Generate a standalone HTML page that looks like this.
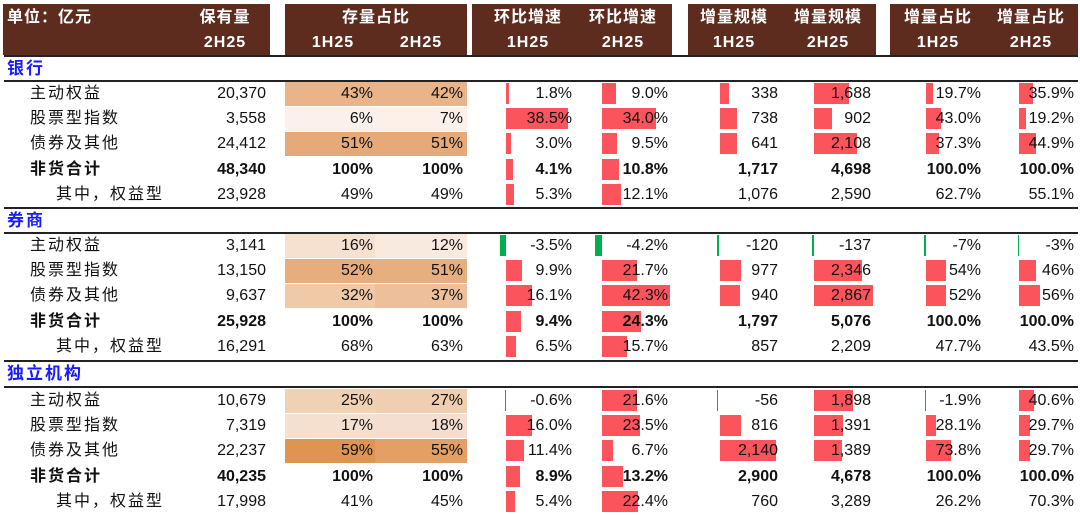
<!DOCTYPE html>
<html><head><meta charset="utf-8">
<style>
*{margin:0;padding:0;box-sizing:border-box}
body{width:1080px;height:515px;background:#fff;position:relative;overflow:hidden;font-family:"Liberation Sans","Noto Sans CJK SC",sans-serif;color:#111;font-size:16px}
.hb{position:absolute;top:4px;height:51px;background:#5e2c1e}
.ht{position:absolute;color:#fff;font-weight:bold;font-size:16px;line-height:20px;white-space:nowrap;transform:translateX(-50%);letter-spacing:1px}
.ln{position:absolute;left:4px;width:1074px;height:2px;background:#222}
.sec{position:absolute;left:7px;color:#1a1aff;font-weight:bold;font-size:17px;letter-spacing:2px;line-height:23px}
.r{position:absolute;left:0;width:1080px;height:25px;line-height:25px}
.r span{position:absolute;white-space:nowrap;z-index:2}
.n{left:30px;letter-spacing:2px}
.n2{left:56px !important;letter-spacing:2px}
.c1{right:814px}.c2{right:707px}.c3{right:617px}.c4{right:508px}.c5{right:412px}
.c6{right:302px}.c7{right:209px}.c8{right:99px}.c9{right:6px}
.bold span{font-weight:bold}
.h{position:absolute;top:1px;height:24px;z-index:1}
.h1{left:285px;width:90px}.h2{left:375px;width:92px}
.b{position:absolute;top:2px;height:21px;background:#fb545c;z-index:1}
.g{position:absolute;top:2px;height:21px;background:#00b050;z-index:1}
</style></head><body>
<div class="hb" style="left:3px;width:267px"></div>
<div class="hb" style="left:285px;width:182px"></div>
<div class="hb" style="left:472px;width:200px"></div>
<div class="hb" style="left:688px;width:188px"></div>
<div class="hb" style="left:890px;width:188px"></div>
<div class="ht" style="left:7px;top:8px;transform:none">单位：亿元</div>
<div class="ht" style="left:225px;top:8px">保有量</div>
<div class="ht" style="left:225px;top:33px">2H25</div>
<div class="ht" style="left:376px;top:8px">存量占比</div>
<div class="ht" style="left:333px;top:33px">1H25</div>
<div class="ht" style="left:421px;top:33px">2H25</div>
<div class="ht" style="left:528px;top:8px">环比增速</div>
<div class="ht" style="left:623px;top:8px">环比增速</div>
<div class="ht" style="left:528px;top:33px">1H25</div>
<div class="ht" style="left:623px;top:33px">2H25</div>
<div class="ht" style="left:734px;top:8px">增量规模</div>
<div class="ht" style="left:828px;top:8px">增量规模</div>
<div class="ht" style="left:734px;top:33px">1H25</div>
<div class="ht" style="left:828px;top:33px">2H25</div>
<div class="ht" style="left:938px;top:8px">增量占比</div>
<div class="ht" style="left:1031px;top:8px">增量占比</div>
<div class="ht" style="left:938px;top:33px">1H25</div>
<div class="ht" style="left:1031px;top:33px">2H25</div>

<div class="ln" style="top:55px"></div>
<div class="sec" style="top:57px">银行</div>
<div class="ln" style="top:80px"></div>

<div class="r" style="top:81px"><span class="n">主动权益</span><span class="c1">20,370</span>
<i class="h h1" style="background:#e9b48a"></i><i class="h h2" style="background:#e9b48a"></i><span class="c2">43%</span><span class="c3">42%</span>
<i class="b" style="left:506px;width:3px"></i><span class="c4">1.8%</span><i class="b" style="left:602px;width:14px"></i><span class="c5">9.0%</span>
<i class="b" style="left:720px;width:9px"></i><span class="c6">338</span><i class="b" style="left:814px;width:35px"></i><span class="c7">1,688</span>
<i class="b" style="left:926px;width:7px"></i><span class="c8">19.7%</span><i class="b" style="left:1019px;width:14px"></i><span class="c9">35.9%</span></div>
<div class="r" style="top:106px"><span class="n">股票型指数</span><span class="c1">3,558</span>
<i class="h h1" style="background:#fbf1ec"></i><i class="h h2" style="background:#fbf0ea"></i><span class="c2">6%</span><span class="c3">7%</span>
<i class="b" style="left:506px;width:62px"></i><span class="c4">38.5%</span><i class="b" style="left:602px;width:54px"></i><span class="c5">34.0%</span>
<i class="b" style="left:720px;width:17px"></i><span class="c6">738</span><i class="b" style="left:814px;width:18px"></i><span class="c7">902</span>
<i class="b" style="left:926px;width:15px"></i><span class="c8">43.0%</span><i class="b" style="left:1019px;width:7px"></i><span class="c9">19.2%</span></div>
<div class="r" style="top:131px"><span class="n">债券及其他</span><span class="c1">24,412</span>
<i class="h h1" style="background:#e6aa7a"></i><i class="h h2" style="background:#e6aa7a"></i><span class="c2">51%</span><span class="c3">51%</span>
<i class="b" style="left:506px;width:5px"></i><span class="c4">3.0%</span><i class="b" style="left:602px;width:15px"></i><span class="c5">9.5%</span>
<i class="b" style="left:720px;width:17px"></i><span class="c6">641</span><i class="b" style="left:814px;width:43px"></i><span class="c7">2,108</span>
<i class="b" style="left:926px;width:13px"></i><span class="c8">37.3%</span><i class="b" style="left:1019px;width:17px"></i><span class="c9">44.9%</span></div>
<div class="r bold" style="top:157px"><span class="n">非货合计</span><span class="c1">48,340</span><span class="c2">100%</span><span class="c3">100%</span>
<i class="b" style="left:506px;width:7px"></i><span class="c4">4.1%</span><i class="b" style="left:602px;width:17px"></i><span class="c5">10.8%</span>
<span class="c6">1,717</span><span class="c7">4,698</span><span class="c8">100.0%</span><span class="c9">100.0%</span></div>
<div class="r" style="top:182px"><span class="n n2">其中，权益型</span><span class="c1">23,928</span><span class="c2">49%</span><span class="c3">49%</span>
<i class="b" style="left:506px;width:8px"></i><span class="c4">5.3%</span><i class="b" style="left:602px;width:19px"></i><span class="c5">12.1%</span>
<span class="c6">1,076</span><span class="c7">2,590</span><span class="c8">62.7%</span><span class="c9">55.1%</span></div>

<div class="ln" style="top:207px"></div>
<div class="sec" style="top:209px">券商</div>
<div class="ln" style="top:232px"></div>

<div class="r" style="top:233px"><span class="n">主动权益</span><span class="c1">3,141</span>
<i class="h h1" style="background:#f6e0cf"></i><i class="h h2" style="background:#f9eadf"></i><span class="c2">16%</span><span class="c3">12%</span>
<i class="g" style="left:500px;width:6px"></i><span class="c4">-3.5%</span><i class="g" style="left:595px;width:7px"></i><span class="c5">-4.2%</span>
<i class="g" style="left:717px;width:2px"></i><span class="c6">-120</span><i class="g" style="left:812px;width:2px"></i><span class="c7">-137</span>
<i class="g" style="left:924px;width:2px"></i><span class="c8">-7%</span><i class="g" style="left:1018px;width:1px"></i><span class="c9">-3%</span></div>
<div class="r" style="top:258px"><span class="n">股票型指数</span><span class="c1">13,150</span>
<i class="h h1" style="background:#e7ad7d"></i><i class="h h2" style="background:#e7ae80"></i><span class="c2">52%</span><span class="c3">51%</span>
<i class="b" style="left:506px;width:16px"></i><span class="c4">9.9%</span><i class="b" style="left:602px;width:35px"></i><span class="c5">21.7%</span>
<i class="b" style="left:720px;width:21px"></i><span class="c6">977</span><i class="b" style="left:814px;width:48px"></i><span class="c7">2,346</span>
<i class="b" style="left:926px;width:20px"></i><span class="c8">54%</span><i class="b" style="left:1019px;width:17px"></i><span class="c9">46%</span></div>
<div class="r" style="top:283px"><span class="n">债券及其他</span><span class="c1">9,637</span>
<i class="h h1" style="background:#f0c9a8"></i><i class="h h2" style="background:#edc09b"></i><span class="c2">32%</span><span class="c3">37%</span>
<i class="b" style="left:506px;width:26px"></i><span class="c4">16.1%</span><i class="b" style="left:602px;width:68px"></i><span class="c5">42.3%</span>
<i class="b" style="left:720px;width:20px"></i><span class="c6">940</span><i class="b" style="left:814px;width:59px"></i><span class="c7">2,867</span>
<i class="b" style="left:926px;width:20px"></i><span class="c8">52%</span><i class="b" style="left:1019px;width:21px"></i><span class="c9">56%</span></div>
<div class="r bold" style="top:309px"><span class="n">非货合计</span><span class="c1">25,928</span><span class="c2">100%</span><span class="c3">100%</span>
<i class="b" style="left:506px;width:15px"></i><span class="c4">9.4%</span><i class="b" style="left:602px;width:39px"></i><span class="c5">24.3%</span>
<span class="c6">1,797</span><span class="c7">5,076</span><span class="c8">100.0%</span><span class="c9">100.0%</span></div>
<div class="r" style="top:334px"><span class="n n2">其中，权益型</span><span class="c1">16,291</span><span class="c2">68%</span><span class="c3">63%</span>
<i class="b" style="left:506px;width:10px"></i><span class="c4">6.5%</span><i class="b" style="left:602px;width:25px"></i><span class="c5">15.7%</span>
<span class="c6">857</span><span class="c7">2,209</span><span class="c8">47.7%</span><span class="c9">43.5%</span></div>

<div class="ln" style="top:360px"></div>
<div class="sec" style="top:362px">独立机构</div>
<div class="ln" style="top:386px"></div>

<div class="r" style="top:388px"><span class="n">主动权益</span><span class="c1">10,679</span>
<i class="h h1" style="background:#f1d1b4"></i><i class="h h2" style="background:#f0ceb0"></i><span class="c2">25%</span><span class="c3">27%</span>
<i class="g" style="left:505px;width:1px"></i><span class="c4">-0.6%</span><i class="b" style="left:602px;width:35px"></i><span class="c5">21.6%</span>
<i class="g" style="left:717px;width:1px"></i><span class="c6">-56</span><i class="b" style="left:814px;width:39px"></i><span class="c7">1,898</span>
<i class="g" style="left:925px;width:1px"></i><span class="c8">-1.9%</span><i class="b" style="left:1019px;width:15px"></i><span class="c9">40.6%</span></div>
<div class="r" style="top:413px"><span class="n">股票型指数</span><span class="c1">7,319</span>
<i class="h h1" style="background:#f5e0d0"></i><i class="h h2" style="background:#f5ded0"></i><span class="c2">17%</span><span class="c3">18%</span>
<i class="b" style="left:506px;width:26px"></i><span class="c4">16.0%</span><i class="b" style="left:602px;width:38px"></i><span class="c5">23.5%</span>
<i class="b" style="left:720px;width:21px"></i><span class="c6">816</span><i class="b" style="left:814px;width:29px"></i><span class="c7">1,391</span>
<i class="b" style="left:926px;width:10px"></i><span class="c8">28.1%</span><i class="b" style="left:1019px;width:11px"></i><span class="c9">29.7%</span></div>
<div class="r" style="top:438px"><span class="n">债券及其他</span><span class="c1">22,237</span>
<i class="h h1" style="background:#df9552"></i><i class="h h2" style="background:#e39f64"></i><span class="c2">59%</span><span class="c3">55%</span>
<i class="b" style="left:506px;width:18px"></i><span class="c4">11.4%</span><i class="b" style="left:602px;width:11px"></i><span class="c5">6.7%</span>
<i class="b" style="left:720px;width:56px"></i><span class="c6">2,140</span><i class="b" style="left:814px;width:28px"></i><span class="c7">1,389</span>
<i class="b" style="left:926px;width:25px"></i><span class="c8">73.8%</span><i class="b" style="left:1019px;width:11px"></i><span class="c9">29.7%</span></div>
<div class="r bold" style="top:464px"><span class="n">非货合计</span><span class="c1">40,235</span><span class="c2">100%</span><span class="c3">100%</span>
<i class="b" style="left:506px;width:14px"></i><span class="c4">8.9%</span><i class="b" style="left:602px;width:21px"></i><span class="c5">13.2%</span>
<span class="c6">2,900</span><span class="c7">4,678</span><span class="c8">100.0%</span><span class="c9">100.0%</span></div>
<div class="r" style="top:489px"><span class="n n2">其中，权益型</span><span class="c1">17,998</span><span class="c2">41%</span><span class="c3">45%</span>
<i class="b" style="left:506px;width:9px"></i><span class="c4">5.4%</span><i class="b" style="left:602px;width:36px"></i><span class="c5">22.4%</span>
<span class="c6">760</span><span class="c7">3,289</span><span class="c8">26.2%</span><span class="c9">70.3%</span></div>
</body></html>
